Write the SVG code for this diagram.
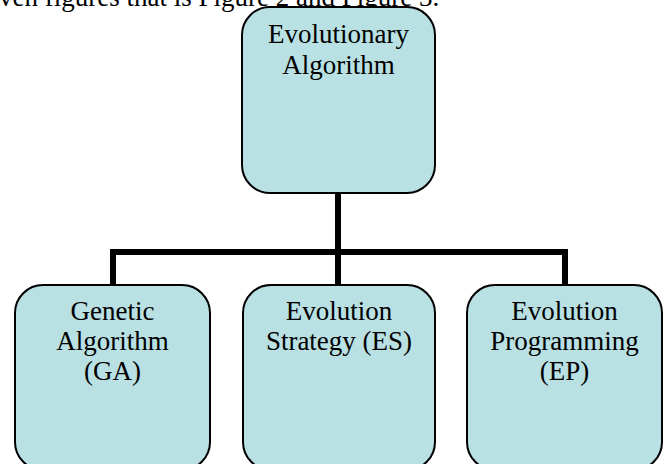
<svg xmlns="http://www.w3.org/2000/svg" width="668" height="464" viewBox="0 0 668 464">
  <style>
    .box { fill: #b9e0e3; stroke: #000; stroke-width: 2; }
    .lbl { font-family: "Liberation Serif", "Times New Roman", serif; font-size: 27px; fill: #000; text-anchor: middle; }
    .body { font-family: "Liberation Serif", "Times New Roman", serif; font-size: 27px; fill: #000; }
    .wire { fill: none; stroke: #000; stroke-width: 6; stroke-linejoin: miter; }
  </style>
  <rect width="668" height="464" fill="#fff"/>

  <text class="body" x="-1" y="6">ven figures that is Figure 2 and Figure 3.</text>

  <!-- tree connectors -->
  <g id="connectors">
    <path class="wire" d="M338,193 V252"/>
    <path class="wire" d="M113,285 V252 H565 V285"/>
    <path class="wire" d="M338,252 V285"/>
  </g>

  <g id="node-ea">
    <rect class="box" x="242" y="7" width="193" height="186" rx="28" ry="28"/>
    <text class="lbl" x="338.5" y="43">Evolutionary</text>
    <text class="lbl" x="338.5" y="74">Algorithm</text>
  </g>

  <g id="node-ga">
    <rect class="box" x="15" y="285" width="195" height="185" rx="28" ry="28"/>
    <text class="lbl" x="112.5" y="320">Genetic</text>
    <text class="lbl" x="112.5" y="350">Algorithm</text>
    <text class="lbl" x="112.5" y="380">(GA)</text>
  </g>

  <g id="node-es">
    <rect class="box" x="243" y="285" width="192" height="185" rx="28" ry="28"/>
    <text class="lbl" x="339" y="320">Evolution</text>
    <text class="lbl" x="339" y="350">Strategy (ES)</text>
  </g>

  <g id="node-ep">
    <rect class="box" x="467" y="285" width="195" height="185" rx="28" ry="28"/>
    <text class="lbl" x="564.5" y="320">Evolution</text>
    <text class="lbl" x="564.5" y="350">Programming</text>
    <text class="lbl" x="564.5" y="380">(EP)</text>
  </g>
</svg>
